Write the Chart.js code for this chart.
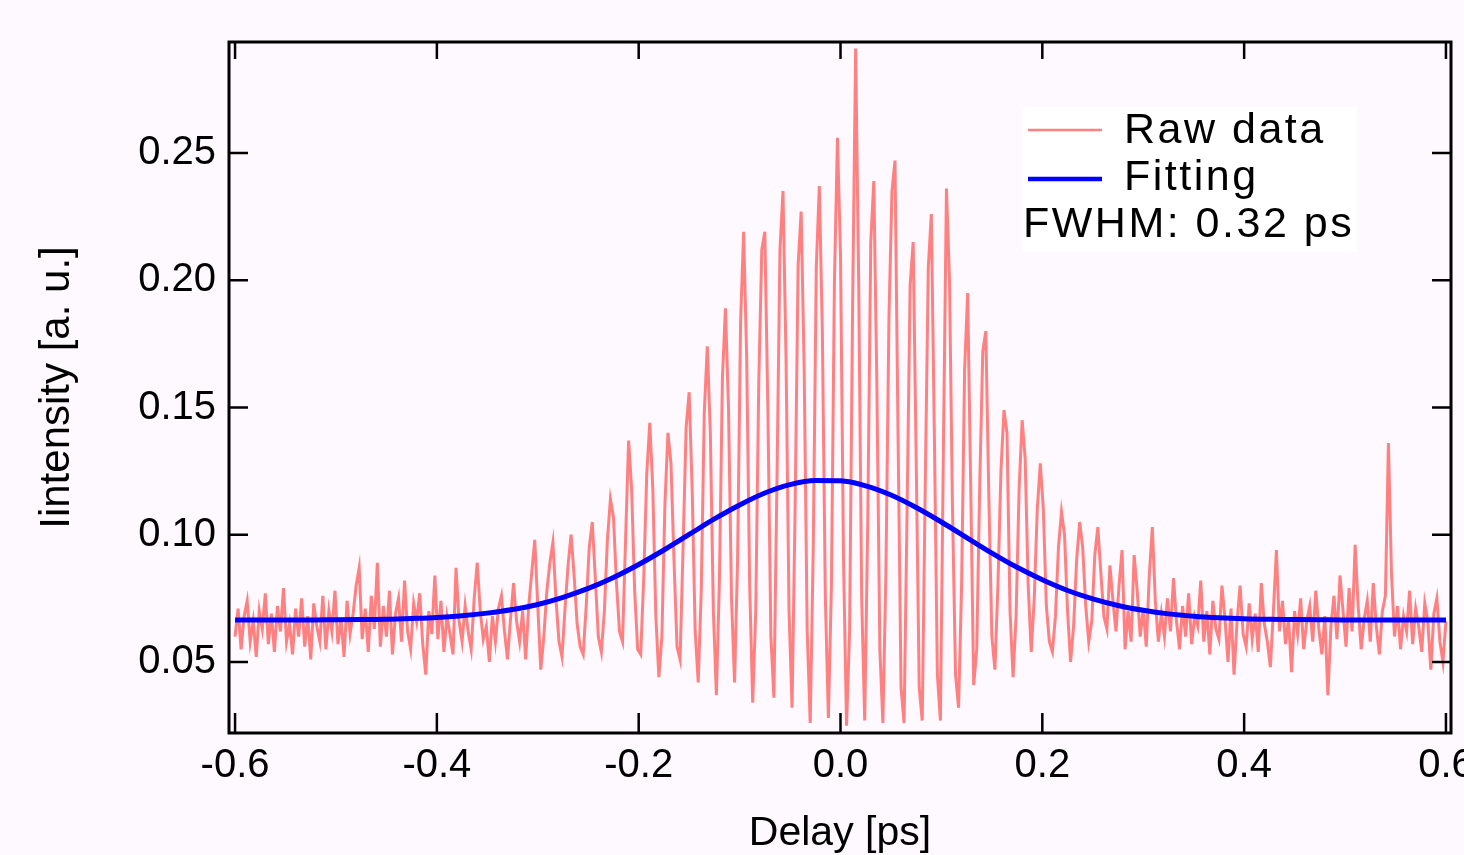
<!DOCTYPE html>
<html>
<head>
<meta charset="utf-8">
<script src="https://cdn.jsdelivr.net/npm/chart.js@4"></script>
<style>
  html, body { margin: 0; padding: 0; background: #fef9fe; overflow: hidden; }
  #wrap { width: 1500px; height: 855px; position: relative; }
</style>
</head>
<body>
<div id="wrap"><canvas id="chart"></canvas></div>
<script>
// raw autocorrelation trace, sampled every 3 fs from -0.6 ps
const rawStart = -0.6;
const rawStep = 0.003;
const rawIntensity = [
  0.060, 0.071, 0.055, 0.068, 0.074, 0.058, 0.066, 0.052, 0.070, 0.063,
  0.077, 0.057, 0.069, 0.054, 0.072, 0.062, 0.079, 0.058, 0.065, 0.053,
  0.071, 0.060, 0.075, 0.056, 0.068, 0.051, 0.073, 0.064, 0.058, 0.076,
  0.055, 0.070, 0.062, 0.078, 0.057, 0.067, 0.052, 0.074, 0.061, 0.069,
  0.080, 0.087, 0.059, 0.071, 0.054, 0.076, 0.063, 0.089, 0.056, 0.072,
  0.060, 0.078, 0.053, 0.069, 0.075, 0.058, 0.082, 0.062, 0.055, 0.073,
  0.066, 0.077, 0.057, 0.045, 0.070, 0.061, 0.084, 0.059, 0.074, 0.054,
  0.068, 0.061, 0.053, 0.087, 0.066, 0.058, 0.072, 0.062, 0.055, 0.075,
  0.089, 0.070, 0.059, 0.064, 0.050, 0.068, 0.058, 0.071, 0.076, 0.062,
  0.051, 0.067, 0.081, 0.066, 0.058, 0.070, 0.051, 0.072, 0.085, 0.098,
  0.072, 0.047, 0.060, 0.078, 0.089, 0.097, 0.075, 0.058, 0.052, 0.071,
  0.088, 0.100, 0.084, 0.065, 0.056, 0.053, 0.072, 0.095, 0.105, 0.083,
  0.060, 0.054, 0.070, 0.098, 0.114, 0.107, 0.081, 0.062, 0.058, 0.098,
  0.137, 0.118, 0.078, 0.055, 0.053, 0.083, 0.124, 0.144, 0.118, 0.068,
  0.044, 0.060, 0.112, 0.140, 0.128, 0.090, 0.056, 0.051, 0.095, 0.142,
  0.156, 0.118, 0.062, 0.042, 0.078, 0.148, 0.174, 0.140, 0.070, 0.037,
  0.082, 0.162, 0.189, 0.150, 0.075, 0.042, 0.090, 0.184, 0.219, 0.170,
  0.080, 0.034, 0.070, 0.160, 0.212, 0.219, 0.150, 0.060, 0.036, 0.120,
  0.212, 0.235, 0.170, 0.070, 0.032, 0.110, 0.206, 0.227, 0.165, 0.062,
  0.026, 0.095, 0.205, 0.237, 0.180, 0.075, 0.028, 0.080, 0.200, 0.256,
  0.210, 0.090, 0.025, 0.062, 0.190, 0.291, 0.200, 0.075, 0.027, 0.105,
  0.215, 0.239, 0.160, 0.055, 0.026, 0.085, 0.185, 0.235, 0.247, 0.140,
  0.040, 0.026, 0.110, 0.198, 0.215, 0.130, 0.040, 0.027, 0.120, 0.205,
  0.226, 0.140, 0.045, 0.027, 0.135, 0.236, 0.200, 0.110, 0.045, 0.032,
  0.080, 0.165, 0.195, 0.120, 0.041, 0.055, 0.120, 0.172, 0.180, 0.115,
  0.060, 0.047, 0.080, 0.125, 0.149, 0.140, 0.070, 0.044, 0.068, 0.118,
  0.145, 0.130, 0.080, 0.054, 0.075, 0.110, 0.128, 0.110, 0.072, 0.058,
  0.054, 0.068, 0.095, 0.109, 0.100, 0.070, 0.050, 0.064, 0.090, 0.105,
  0.095, 0.072, 0.058, 0.066, 0.092, 0.103, 0.085, 0.068, 0.063, 0.088,
  0.074, 0.062, 0.080, 0.094, 0.055, 0.070, 0.058, 0.092, 0.078, 0.060,
  0.071, 0.056, 0.084, 0.103, 0.074, 0.058, 0.069, 0.060, 0.075, 0.062,
  0.083, 0.066, 0.055, 0.072, 0.060, 0.077, 0.057, 0.068, 0.064, 0.082,
  0.058, 0.070, 0.053, 0.074, 0.063, 0.059, 0.080, 0.067, 0.050, 0.071,
  0.045, 0.066, 0.080, 0.061, 0.056, 0.073, 0.059, 0.069, 0.054, 0.081,
  0.065, 0.058, 0.048, 0.070, 0.094, 0.062, 0.074, 0.057, 0.067, 0.046,
  0.070, 0.061, 0.075, 0.055, 0.066, 0.072, 0.058, 0.078, 0.063, 0.053,
  0.068, 0.037, 0.064, 0.076, 0.059, 0.084, 0.070, 0.056, 0.079, 0.062,
  0.096, 0.072, 0.055, 0.067, 0.074, 0.058, 0.081, 0.064, 0.053, 0.070,
  0.076, 0.136, 0.085, 0.060, 0.072, 0.055, 0.068, 0.062, 0.078, 0.057,
  0.071, 0.064, 0.054, 0.073, 0.066, 0.047, 0.069, 0.075, 0.058, 0.050,
  0.066
];

// gaussian fit, every 25 fs from -0.6 ps
const fitStart = -0.6;
const fitStep = 0.025;
const fitIntensity = [
  0.0665, 0.0665, 0.0665, 0.0665, 0.0666, 0.0667, 0.0668, 0.0671, 0.0675, 0.0682,
  0.0692, 0.0706, 0.0726, 0.0754, 0.0789, 0.0832, 0.0883, 0.0940, 0.1001, 0.1062,
  0.1117, 0.1164, 0.1197, 0.1213, 0.1212, 0.1192, 0.1156, 0.1107, 0.1050, 0.0989,
  0.0928, 0.0872, 0.0823, 0.0781, 0.0748, 0.0722, 0.0703, 0.0689, 0.0680, 0.0674,
  0.0670, 0.0668, 0.0667, 0.0666, 0.0665, 0.0665, 0.0665, 0.0665, 0.0665
];

const xTicks = [-0.6, -0.4, -0.2, 0, 0.2, 0.4, 0.6];
const yTicks = [0.05, 0.10, 0.15, 0.20, 0.25];
const seriesNames = ['Raw data', 'Fitting'];
const fwhmText = 'FWHM: 0.32 ps';

const FONT = '"Liberation Sans", Arial, Helvetica, sans-serif';
Chart.defaults.font.family = FONT;
Chart.defaults.color = '#000';

const rawPoints = rawIntensity.map((v, i) => ({ x: rawStart + i * rawStep, y: v }));
const fitPoints = fitIntensity.map((v, i) => ({ x: fitStart + i * fitStep, y: v }));

// box around the plot with inward ticks on all four sides
const framePlugin = {
  id: 'frame',
  afterDatasetsDraw(chart) {
    const { ctx, chartArea: a, scales } = chart;
    ctx.save();
    ctx.strokeStyle = '#000';
    ctx.lineWidth = 3;
    ctx.strokeRect(a.left, a.top, a.right - a.left, a.bottom - a.top);
    ctx.lineWidth = 2.5;
    ctx.beginPath();
    xTicks.forEach(v => {
      const px = scales.x.getPixelForValue(v);
      ctx.moveTo(px, a.bottom); ctx.lineTo(px, a.bottom - 20);
      ctx.moveTo(px, a.top); ctx.lineTo(px, a.top + 17);
    });
    yTicks.forEach(v => {
      const py = scales.y.getPixelForValue(v);
      ctx.moveTo(a.left, py); ctx.lineTo(a.left + 19, py);
      ctx.moveTo(a.right, py); ctx.lineTo(a.right - 19, py);
    });
    ctx.stroke();
    ctx.restore();
  }
};

const legendPlugin = {
  id: 'boxLegend',
  afterDraw(chart) {
    const ctx = chart.ctx;
    const ds = chart.data.datasets;
    ctx.save();
    ctx.fillStyle = '#ffffff';
    ctx.fillRect(1022, 107, 335, 145);
    ctx.lineCap = 'butt';
    [130, 179].forEach((y, i) => {
      ctx.strokeStyle = ds[i].borderColor;
      ctx.lineWidth = i === 0 ? 2.5 : 4.5;
      ctx.beginPath();
      ctx.moveTo(1028, y); ctx.lineTo(1102, y);
      ctx.stroke();
    });
    ctx.fillStyle = '#000';
    ctx.font = '43px ' + FONT;
    ctx.letterSpacing = '2.5px';
    ctx.textBaseline = 'alphabetic';
    ctx.fillText(seriesNames[0], 1124, 143);
    ctx.fillText(seriesNames[1], 1124, 190);
    ctx.fillText(fwhmText, 1023, 237);
    ctx.restore();
  }
};

new Chart(document.getElementById('chart'), {
  type: 'line',
  data: {
    datasets: [
      {
        label: seriesNames[0],
        data: rawPoints,
        borderColor: '#ff8080',
        borderWidth: 3,
        pointRadius: 0,
        tension: 0,
        order: 2
      },
      {
        label: seriesNames[1],
        data: fitPoints,
        borderColor: '#0000ff',
        borderWidth: 5,
        pointRadius: 0,
        cubicInterpolationMode: 'monotone',
        order: 1
      }
    ]
  },
  options: {
    responsive: true,
    maintainAspectRatio: false,
    animation: false,
    layout: { padding: { top: 42, right: 49, left: 0, bottom: 0 } },
    plugins: {
      legend: { display: false },
      tooltip: { enabled: false }
    },
    scales: {
      x: {
        type: 'linear',
        min: -0.606,
        max: 0.605,
        afterBuildTicks: s => { s.ticks = xTicks.map(v => ({ value: v })); },
        afterFit: s => { s.height = 122; },
        grid: { display: false, drawTicks: false },
        border: { display: false },
        ticks: {
          callback: v => v.toFixed(1),
          font: { size: 40 },
          color: '#000',
          padding: 9,
          maxRotation: 0,
          autoSkip: false
        },
        title: {
          display: true,
          text: 'Delay [ps]',
          font: { size: 41 },
          color: '#000',
          padding: { top: 0, bottom: -3 }
        }
      },
      y: {
        type: 'linear',
        min: 0.0221,
        max: 0.2936,
        afterBuildTicks: s => { s.ticks = yTicks.map(v => ({ value: v })); },
        afterFit: s => { s.width = 229; },
        grid: { display: false, drawTicks: false },
        border: { display: false },
        ticks: {
          callback: v => v.toFixed(2),
          font: { size: 40 },
          color: '#000',
          padding: 13
        },
        title: {
          display: true,
          text: 'Iintensity [a. u.]',
          font: { size: 42 },
          color: '#000',
          padding: { top: 32, bottom: 0 }
        }
      }
    }
  },
  plugins: [framePlugin, legendPlugin]
});
</script>
</body>
</html>
